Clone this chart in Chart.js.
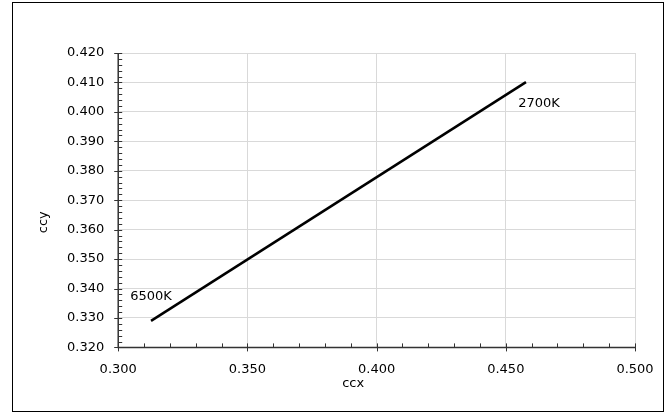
<!DOCTYPE html>
<html>
<head>
<meta charset="utf-8">
<script src="https://cdn.jsdelivr.net/npm/chart.js@4"></script>
<style>
  body { margin: 0; background: #fff; }
  #frame {
    position: absolute; left: 12px; top: 2px;
    width: 652px; height: 410px;
    border: 1.5px solid #000; box-sizing: border-box;
  }
  #frame canvas { position: absolute; left: 0; top: 0; }
</style>
</head>
<body>
<div id="frame"><canvas id="c" width="649" height="407"></canvas></div>
<script>
// chromaticity points (ccx, ccy) and their labels
const pointLabels = ["6500K", "2700K"];
const ccx = [0.3127, 0.4578];
const ccy = [0.3290, 0.4101];
const xTitle = "ccx";
const yTitle = "ccy";

const xMin = 0.300, xMax = 0.500, xMajor = 0.050, xMinor = 0.010;
const yMin = 0.320, yMax = 0.420, yMajor = 0.010, yMinor = 0.002;

const FONT = "'DejaVu Sans', sans-serif";

// tick marks across the axis lines, axis titles and point labels (Excel look)
const excelBits = {
  id: "excelBits",
  afterDraw(chart) {
    const { ctx, chartArea: a, scales: { x, y } } = chart;
    ctx.save();
    ctx.strokeStyle = "#333";
    ctx.lineWidth = 1;
    ctx.beginPath();
    for (let v = xMin; v <= xMax + 1e-9; v += xMinor) {
      const px = Math.round(x.getPixelForValue(v)) + 0.5;
      const major = Math.abs(v / xMajor - Math.round(v / xMajor)) < 1e-6;
      ctx.moveTo(px, a.bottom - 4);
      ctx.lineTo(px, a.bottom + (major ? 4 : 0));
    }
    for (let v = yMin; v <= yMax + 1e-9; v += yMinor) {
      const py = Math.round(y.getPixelForValue(v)) + 0.5;
      const major = Math.abs(v / yMajor - Math.round(v / yMajor)) < 1e-6;
      ctx.moveTo(a.left - (major ? 4 : 0), py);
      ctx.lineTo(a.left + 4, py);
    }
    ctx.stroke();
    // axis lines
    ctx.lineWidth = 1.5;
    ctx.beginPath();
    ctx.moveTo(a.left, a.top);
    ctx.lineTo(a.left, a.bottom);
    ctx.lineTo(a.right, a.bottom);
    ctx.stroke();

    ctx.fillStyle = "#000";
    ctx.font = "13px " + FONT;
    ctx.textBaseline = "middle";
    ctx.textAlign = "center";
    // axis titles
    ctx.fillText(xTitle, a.left + 235, a.bottom + 36);
    ctx.save();
    ctx.translate(a.left - 75, (a.top + a.bottom) / 2 + 22);
    ctx.rotate(-Math.PI / 2);
    ctx.fillText(yTitle, 0, 0);
    ctx.restore();
    // point labels
    const meta = chart.getDatasetMeta(0);
    const p0 = meta.data[0], p1 = meta.data[1];
    ctx.fillText(pointLabels[0], p0.x, p0.y - 24);
    ctx.fillText(pointLabels[1], p1.x + 13, p1.y + 21);
    ctx.restore();
  }
};

new Chart(document.getElementById("c"), {
  type: "scatter",
  data: {
    datasets: [{
      data: ccx.map((v, i) => ({ x: v, y: ccy[i] })),
      showLine: true,
      borderColor: "#000",
      borderWidth: 2.5,
      pointRadius: 0,
      fill: false
    }]
  },
  options: {
    responsive: false,
    animation: false,
    layout: { padding: { left: 40, right: 27, top: 50, bottom: 19 } },
    plugins: { legend: { display: false }, tooltip: { enabled: false } },
    scales: {
      x: {
        type: "linear",
        min: xMin, max: xMax,
        border: { display: false },
        grid: { color: "#d9d9d9", drawTicks: false },
        afterFit: s => { s.paddingRight = 0; },
        ticks: {
          stepSize: xMajor, padding: 14, color: "#000",
          font: { family: FONT, size: 13 },
          callback: v => v.toFixed(3)
        }
      },
      y: {
        type: "linear",
        min: yMin, max: yMax,
        border: { display: false },
        grid: { color: "#d9d9d9", drawTicks: false },
        ticks: {
          stepSize: yMajor, padding: 14, color: "#000",
          font: { family: FONT, size: 13 },
          callback: v => v.toFixed(3)
        }
      }
    }
  },
  plugins: [excelBits]
});
</script>
</body>
</html>
